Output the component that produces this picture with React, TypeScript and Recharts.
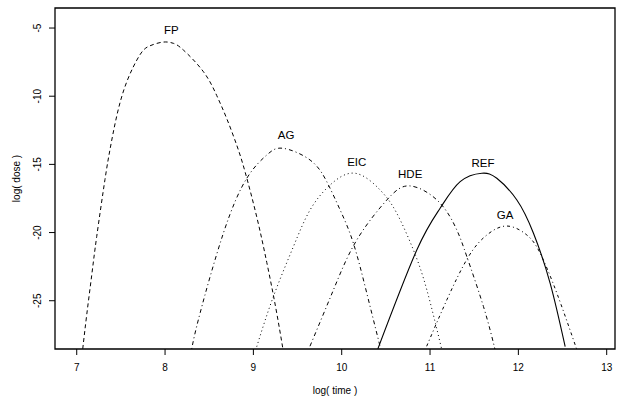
import React from "react";
import { ComposedChart, Line, XAxis, YAxis, Scatter, ReferenceArea } from "recharts";

const xTicks = [7, 8, 9, 10, 11, 12, 13];
const yTicks = [-5, -10, -15, -20, -25];
const xDomain = [6.754, 13.094];
const yDomain = [-28.54, -3.53];

const fp = [
  { x: 7.068, y: -28.53 }, { x: 7.113, y: -26.04 }, { x: 7.17, y: -23.11 }, { x: 7.226, y: -20.3 },
  { x: 7.32, y: -16.1 }, { x: 7.377, y: -13.9 }, { x: 7.453, y: -11.45 }, { x: 7.566, y: -8.95 },
  { x: 7.717, y: -6.95 }, { x: 7.83, y: -6.3 }, { x: 7.977, y: -6.03 }, { x: 8.094, y: -6.12 },
  { x: 8.207, y: -6.61 }, { x: 8.434, y: -8.2 }, { x: 8.585, y: -9.95 }, { x: 8.699, y: -11.65 },
  { x: 8.812, y: -13.6 }, { x: 8.906, y: -15.55 }, { x: 9.038, y: -18.85 }, { x: 9.152, y: -22.2 },
  { x: 9.25, y: -25.4 }, { x: 9.333, y: -28.48 },
];
const ag = [
  { x: 8.302, y: -28.53 }, { x: 8.396, y: -25.92 }, { x: 8.66, y: -20.05 }, { x: 8.925, y: -16.02 },
  { x: 9.152, y: -14.31 }, { x: 9.336, y: -13.82 }, { x: 9.642, y: -14.68 }, { x: 9.831, y: -16.27 },
  { x: 9.982, y: -18.34 }, { x: 10.132, y: -20.78 }, { x: 10.284, y: -24.45 }, { x: 10.435, y: -28.37 },
];
const eic = [
  { x: 9.038, y: -28.37 }, { x: 9.226, y: -24.7 }, { x: 9.453, y: -21.03 }, { x: 9.642, y: -18.34 },
  { x: 9.869, y: -16.51 }, { x: 10.152, y: -15.65 }, { x: 10.435, y: -16.88 }, { x: 10.624, y: -18.59 },
  { x: 10.812, y: -21.28 }, { x: 10.964, y: -24.21 }, { x: 11.134, y: -28.61 },
];
const hde = [
  { x: 9.623, y: -28.61 }, { x: 9.906, y: -24.21 }, { x: 10.171, y: -20.54 }, { x: 10.511, y: -17.61 },
  { x: 10.775, y: -16.58 }, { x: 11.1, y: -17.75 }, { x: 11.303, y: -19.81 }, { x: 11.417, y: -21.77 },
  { x: 11.605, y: -25.43 }, { x: 11.737, y: -28.61 },
];
const ref = [
  { x: 10.409, y: -28.53 }, { x: 10.85, y: -21.28 }, { x: 11.114, y: -18.22 }, { x: 11.341, y: -16.27 },
  { x: 11.587, y: -15.65 }, { x: 11.756, y: -16.02 }, { x: 11.983, y: -17.61 }, { x: 12.171, y: -20.05 },
  { x: 12.36, y: -23.72 }, { x: 12.53, y: -28.37 },
];
const ga = [
  { x: 10.944, y: -28.61 }, { x: 11.19, y: -24.94 }, { x: 11.435, y: -21.77 }, { x: 11.643, y: -20.18 },
  { x: 11.87, y: -19.52 }, { x: 12.096, y: -20.18 }, { x: 12.247, y: -21.52 }, { x: 12.436, y: -24.45 },
  { x: 12.663, y: -28.61 },
];
const curveLabels = [
  { x: 8.07, y: -5.15, name: "FP" },
  { x: 9.37, y: -12.84, name: "AG" },
  { x: 10.17, y: -14.8, name: "EIC" },
  { x: 10.775, y: -15.7, name: "HDE" },
  { x: 11.6, y: -14.9, name: "REF" },
  { x: 11.85, y: -18.71, name: "GA" },
];

const FONT = "'Liberation Sans', Arial, Helvetica, sans-serif";

const XTick = (props: any) => {
  const { x, payload } = props;
  return (
    <text x={x} y={371} textAnchor="middle" fontSize={10} fontFamily={FONT} fill="#000">
      {payload.value}
    </text>
  );
};

const YTick = (props: any) => {
  const { y, payload } = props;
  const cx = 41.5;
  return (
    <text
      x={cx}
      y={y}
      textAnchor="middle"
      fontSize={10}
      fontFamily={FONT}
      fill="#000"
      transform={`rotate(-90, ${cx}, ${y})`}
    >
      {payload.value}
    </text>
  );
};

const YTitle = (props: any) => {
  const vb = props.viewBox || {};
  const cy = (vb.y ?? 8) + (vb.height ?? 341) / 2;
  const cx = 19.5;
  return (
    <text x={cx} y={cy} textAnchor="middle" fontSize={10} fontFamily={FONT} fill="#000" transform={`rotate(-90, ${cx}, ${cy})`}>
      log( dose )
    </text>
  );
};

const LabelShape = (props: any) => {
  const { cx, cy, payload } = props;
  return (
    <text x={cx} y={cy + 4} textAnchor="middle" fontSize={11.5} fontFamily={FONT} fill="#000">
      {payload.name}
    </text>
  );
};

export default function App() {
  return (
    <div style={{ position: "absolute", left: 0, top: 0, background: "#fff" }}>
      <ComposedChart width={619} height={399} margin={{ top: 8, right: 4, left: 0, bottom: 0 }}>
        <XAxis
          dataKey="x"
          type="number"
          domain={xDomain}
          ticks={xTicks}
          allowDataOverflow
          height={50}
          axisLine={false}
          tickSize={6}
          tickLine={{ stroke: "#000" }}
          tick={<XTick />}
          label={{ value: "log( time )", position: "insideBottom", offset: 5, fontSize: 10, fontFamily: FONT, fill: "#000" }}
        />
        <YAxis
          dataKey="y"
          type="number"
          domain={yDomain}
          ticks={yTicks}
          allowDataOverflow
          width={55}
          axisLine={false}
          tickSize={6}
          tickLine={{ stroke: "#000" }}
          tick={<YTick />}
          label={<YTitle />}
        />
        <ReferenceArea x1={xDomain[0]} x2={xDomain[1]} y1={yDomain[0]} y2={yDomain[1]} fill="none" stroke="#000" strokeWidth={1.3} fillOpacity={0} />
        <Line data={fp} dataKey="y" type="natural" stroke="#000" strokeWidth={1} strokeDasharray="4 3" dot={false} isAnimationActive={false} />
        <Line data={ag} dataKey="y" type="natural" stroke="#000" strokeWidth={1} strokeDasharray="1 3 4 3" dot={false} isAnimationActive={false} />
        <Line data={eic} dataKey="y" type="natural" stroke="#000" strokeWidth={1} strokeDasharray="1 3" dot={false} isAnimationActive={false} />
        <Line data={hde} dataKey="y" type="natural" stroke="#000" strokeWidth={1} strokeDasharray="1 3 4 3" dot={false} isAnimationActive={false} />
        <Line data={ref} dataKey="y" type="natural" stroke="#000" strokeWidth={1.1} dot={false} isAnimationActive={false} />
        <Line data={ga} dataKey="y" type="natural" stroke="#000" strokeWidth={1} strokeDasharray="1 3 3 3" dot={false} isAnimationActive={false} />
        <Scatter data={curveLabels} dataKey="y" shape={<LabelShape />} isAnimationActive={false} />
      </ComposedChart>
    </div>
  );
}
